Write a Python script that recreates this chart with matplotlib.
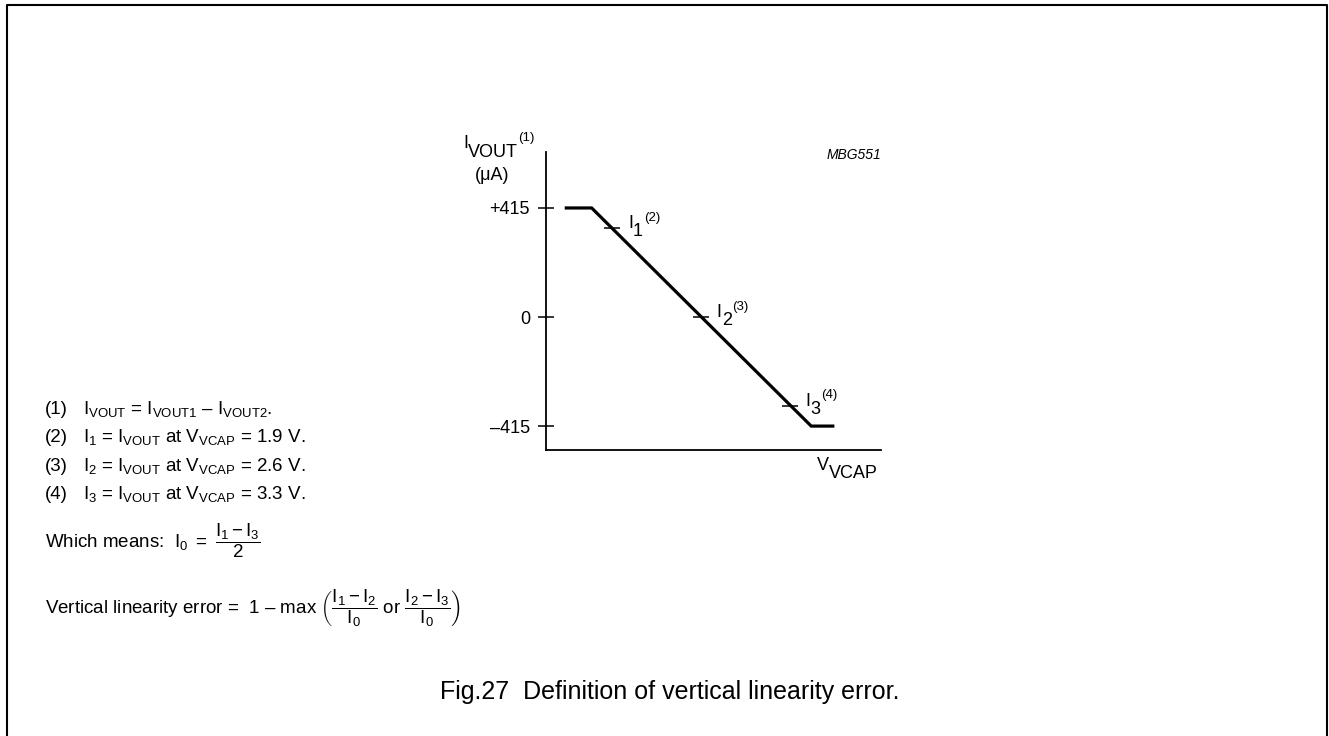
import matplotlib
matplotlib.use("Agg")
import matplotlib.pyplot as plt
from matplotlib.lines import Line2D

# fonts: Arial-like text, upright math
plt.rcParams["font.family"] = ["Liberation Sans", "DejaVu Sans"]
plt.rcParams["mathtext.fontset"] = "custom"
plt.rcParams["mathtext.rm"] = "Liberation Sans"
plt.rcParams["mathtext.it"] = "Liberation Sans:italic"
plt.rcParams["mathtext.bf"] = "Liberation Sans:bold"
plt.rcParams["mathtext.default"] = "regular"

# transfer curve (V_VCAP in V, I_VOUT in uA)
vcap = [1.54, 1.74, 3.47, 3.64]
iout = [415, 415, -415, -415]

# measurement points I1, I2, I3
point_v = [1.9, 2.6, 3.3]
point_i = [338, 0, -338]
point_sub = ["1", "2", "3"]
point_sup = ["(2)", "(3)", "(4)"]

yticks = [415, 0, -415]
ytick_labels = ["+415", "0", "\u2013415"]

W, H = 1329, 736
fig = plt.figure(figsize=(W / 100, H / 100), dpi=100)


def fx(px):
    return px / W


def fy(py):
    return 1 - py / H


ax = fig.add_axes([fx(546), fy(450), (881 - 546) / W, (450 - 152) / H])
ax.plot(vcap, iout, color="black", lw=2.3, solid_joinstyle="miter")
ax.plot(point_v, point_i, ls="none", marker="_", ms=11.5, mew=1.1, color="black")

ax.set_xlim(1.38, 4.02)
ax.set_ylim(-506, 628)
ax.set_xticks([])
ax.set_yticks(yticks, labels=ytick_labels, fontsize=13)
ax.tick_params(axis="y", direction="inout", length=11.5, width=1.1, pad=5.8)
for s in ["top", "right"]:
    ax.spines[s].set_visible(False)
for s in ["left", "bottom"]:
    ax.spines[s].set_linewidth(1.3)


def piece_label(xy, coords, base, sub, sup, dx=0, drop=5.8):
    # base letter, full-size lowered subscript, small raised superscript
    t1 = ax.annotate(base, xy=xy, xycoords=coords, xytext=(dx, 0),
                     textcoords="offset points", va="baseline", fontsize=13)
    t2 = ax.annotate(sub, xy=(1, xy[1]), xycoords=(t1, coords), xytext=(0, -drop),
                     textcoords="offset points", va="baseline", fontsize=13)
    if sup:
        ax.annotate(sup, xy=(1, xy[1]), xycoords=(t2, coords), xytext=(0.5, 5.4),
                    textcoords="offset points", va="baseline", fontsize=9.5)


for v, i, sb, sp in zip(point_v, point_i, point_sub, point_sup):
    piece_label((v, i), "data", "I", sb, sp, dx=11.5)

piece_label((fx(463), fy(148)), "figure fraction", "I", "VOUT", "(1)", drop=6.5)
fig.text(fx(492), fy(175), "(\u03bcA)", fontsize=13, ha="center", va="center")
piece_label((fx(817), fy(470)), "figure fraction", "V", "VCAP", None, drop=6)

fig.text(fx(881), fy(155), "MBG551", fontsize=10, style="italic", ha="right", va="center")

# notes
notes = [
    ("(1)", "$I_{VOUT}$ = $I_{VOUT1}$ \u2013 $I_{VOUT2}$."),
    ("(2)", "$I_1$ = $I_{VOUT}$ at $V_{VCAP}$ = 1.9 V."),
    ("(3)", "$I_2$ = $I_{VOUT}$ at $V_{VCAP}$ = 2.6 V."),
    ("(4)", "$I_3$ = $I_{VOUT}$ at $V_{VCAP}$ = 3.3 V."),
]
for k, (num, txt) in enumerate(notes):
    y = 414 + k * 28.3
    fig.text(fx(45), fy(y), num, fontsize=13.5, va="baseline")
    fig.text(fx(83), fy(y), txt, fontsize=13.5, va="baseline")

fig.text(fx(45), fy(547), r"Which means:  $I_0\ =\ \dfrac{I_1 - I_3}{2}$",
         fontsize=13.5, va="baseline")
fig.text(fx(45), fy(613),
         "Vertical linearity error =  1 \u2013 max "
         r"$\left(\dfrac{I_1 - I_2}{I_0}\ or\ \dfrac{I_2 - I_3}{I_0}\right)$",
         fontsize=13.5, va="baseline")

fig.text(fx(670), fy(692), "Fig.27  Definition of vertical linearity error.",
         fontsize=18, ha="center", va="center")

# frame around the figure (open at the bottom)
fig.add_artist(Line2D([fx(7), fx(7), fx(1327), fx(1327)], [0, fy(5), fy(5), 0],
                      transform=fig.transFigure, color="black", lw=1.5))

fig.savefig("out.png", dpi=100)
